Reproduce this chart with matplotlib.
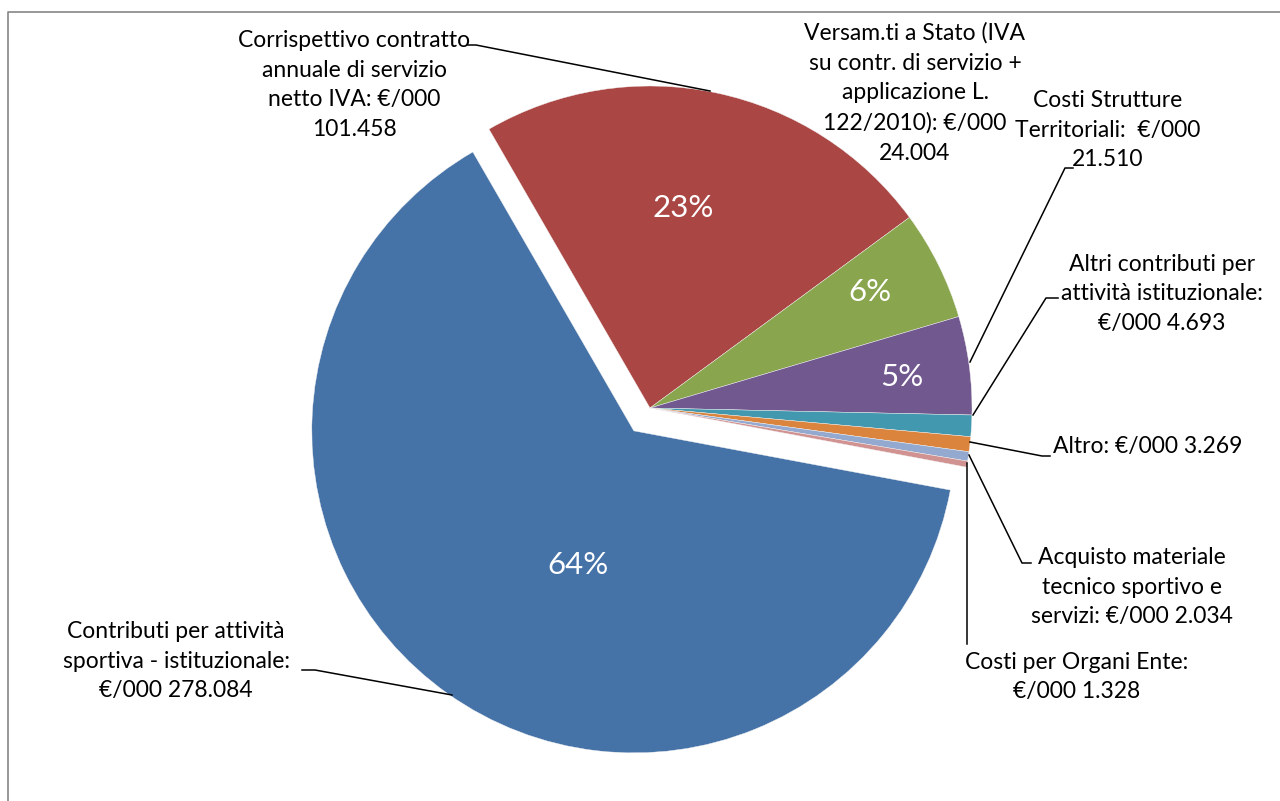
import matplotlib
matplotlib.use('Agg')
import matplotlib.pyplot as plt
from matplotlib.lines import Line2D

# ---- data ----
categories = [
    "Corrispettivo contratto\nannuale di servizio\nnetto IVA: €/000\n",
    "Versam.ti a Stato (IVA\nsu contr. di servizio +\napplicazione L.\n122/2010): €/000\n",
    "Costi Strutture\nTerritoriali:  €/000\n",
    "Altri contributi per\nattività istituzionale:\n€/000 ",
    "Altro: €/000 ",
    "Acquisto materiale\ntecnico sportivo e\nservizi: €/000 ",
    "Costi per Organi Ente:\n€/000 ",
    "Contributi per attività\nsportiva - istituzionale:\n€/000 ",
]
values = [101458, 24004, 21510, 4693, 3269, 2034, 1328, 278084]
colors = ["#AA4643", "#89A54E", "#71588F", "#4198AF",
          "#DB843D", "#93A9CF", "#D19392", "#4572A7"]

# ---- layout (pixel space) ----
W, H = 1280, 801
CX, CY, R = 650, 408, 322
FONT = ["Lato", "DejaVu Sans"]

fig = plt.figure(figsize=(W / 100, H / 100), dpi=100)
ax = fig.add_axes([0, 0, 1, 1])


def P(px, py):
    return ((px - CX) / R, (CY - py) / R)


explode = [0, 0, 0, 0, 0, 0, 0, 28 / R]
wedges, _ = ax.pie(values, colors=colors, startangle=120, counterclock=False,
                   explode=explode, radius=1.0,
                   wedgeprops=dict(linewidth=0.3, edgecolor="#f4f4f4"))
ax.set_xlim(-CX / R, (W - CX) / R)
ax.set_ylim((CY - H) / R, CY / R)
ax.set_aspect("auto")
ax.axis("off")

total = sum(values)


def fmt(v):
    return f"{v:,}".replace(",", ".")


# category labels: (center x, center y) in pixels
label_pos = [(354, 85), (915, 93), (1108, 130), (1162, 294),
             (1148, 447), (1132, 587), (1077, 677), (176, 661)]
for name, v, (px, py) in zip(categories, values, label_pos):
    ax.text(*P(px, py), name + fmt(v), ha="center", va="center",
            fontsize=16.5, family=FONT, color="black", linespacing=1.52)

# leader lines (pixel polylines)
leaders = [
    [(468, 45), (476, 45), (710, 91)],
    [(1073, 168), (1065, 168), (970, 362)],
    [(1058, 298), (1046, 298), (973, 415)],
    [(970, 442), (1042, 456), (1050, 456)],
    [(969, 455), (1022, 563), (1031, 563)],
    [(967, 463), (967, 644)],
    [(302, 670), (315, 670), (452, 695)],
]
for pts in leaders:
    xs, ys = zip(*[P(x, y) for x, y in pts])
    ax.add_line(Line2D(xs, ys, color="black", linewidth=1.1))

# percentage labels
pct_pos = {0: (683, 208), 1: (870, 292), 2: (902, 377), 7: (578, 565)}
for i, (px, py) in pct_pos.items():
    ax.text(*P(px, py), f"{round(values[i] / total * 100)}%", ha="center",
            va="center", fontsize=22.5, family=FONT, color="white")

# chart border (top and left visible)
fig.add_artist(Line2D([8 / W, 8 / W, 1.0], [0.0, 1 - 12 / H, 1 - 12 / H],
                      transform=fig.transFigure, color="#868686", linewidth=1.2))

fig.savefig("out.png", dpi=100, facecolor="white")
